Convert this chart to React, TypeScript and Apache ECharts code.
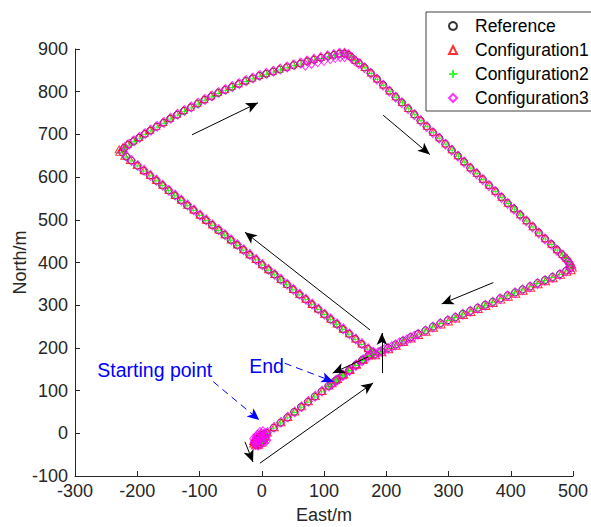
import React, { useEffect, useRef } from "react";
import * as echarts from "echarts";

const FONT = "'Liberation Sans', Arial, Helvetica, sans-serif";
const AXIS_COLOR = "#262626";

const xRange = [-300, 500];
const yRange = [-100, 900];
const tickStep = 100;
const xName = "East/m";
const yName = "North/m";
const seriesNames = ["Reference", "Configuration1", "Configuration2", "Configuration3"];

const referencePath = [
  [0, -4], [-4, -9], [-8, -14], [-11, -19], [-12, -24], [-9, -27], [-5, -26], [-1, -21], [3, -15], [6, -9], [4, -2],
  [8, 1], [19, 13], [30, 25], [41, 37], [52, 50], [63, 62], [74, 74], [85, 86], [96, 98], [107, 111], [118, 123], [129, 135], [140, 147], [151, 160], [162, 172], [173, 184], [178, 190],
  [170, 198], [160, 209], [150, 221], [140, 233], [130, 244], [120, 256], [110, 267], [100, 279], [90, 291], [80, 302], [70, 314], [60, 325], [50, 337], [40, 349], [30, 360], [20, 372], [10, 383], [0, 395], [-10, 407], [-20, 418], [-30, 430], [-40, 441], [-50, 453], [-60, 465], [-70, 476], [-80, 488], [-90, 499], [-100, 511], [-110, 523], [-120, 534], [-130, 546], [-140, 557], [-150, 569], [-160, 581], [-170, 592], [-180, 604], [-190, 615], [-200, 627], [-210, 639], [-218, 648], [-224, 658],
  [-221, 668], [-214, 676], [-206, 684], [-197, 692], [-188, 701], [-179, 709], [-169, 718], [-158, 727], [-147, 737], [-136, 746], [-125, 755], [-114, 763], [-103, 772], [-92, 781], [-81, 789], [-70, 797], [-59, 804], [-48, 811], [-37, 818], [-26, 825], [-15, 831], [-4, 837], [7, 842], [18, 847], [29, 852], [40, 857], [51, 862], [62, 866], [73, 871], [84, 875], [95, 879], [106, 883], [116, 886], [125, 889], [133, 889], [139, 886],
  [143, 882], [149, 874], [156, 867], [165, 857], [175, 844], [185, 830], [195, 816], [205, 802], [215, 788], [225, 775], [235, 761], [245, 747], [255, 733], [265, 719], [275, 705], [285, 692], [295, 678], [305, 664], [315, 650], [325, 636], [335, 622], [345, 609], [355, 595], [365, 581], [375, 567], [385, 553], [395, 539], [405, 526], [415, 512], [425, 498], [435, 484], [445, 470], [455, 456], [465, 443], [474, 430], [482, 419], [488, 410], [492, 402], [495, 394], [495, 387],
  [489, 381], [479, 373], [467, 366], [455, 359], [443, 352], [431, 344], [419, 337], [407, 330], [395, 323], [383, 316], [371, 308], [359, 301], [347, 294], [335, 287], [323, 280], [311, 272], [299, 265], [287, 258], [275, 250], [263, 241], [251, 233], [239, 225], [227, 217], [215, 208], [203, 200], [192, 193], [182, 186],
  [171, 181], [161, 171], [151, 160], [141, 148], [131, 137], [121, 126], [112, 116],
];

const config1Path = [
  [-1, -3], [-5, -8], [-10, -13], [-13, -18], [-13, -24], [-10, -28], [-5, -27], [0, -22], [4, -15], [6, -8], [3, 0],
  [9, 2], [20, 14], [31, 26], [42, 38], [53, 51], [64, 63], [75, 75], [86, 87], [97, 99], [108, 112], [119, 124], [130, 136], [141, 148], [152, 161], [163, 173], [174, 185], [179, 191],
  [171, 199], [161, 210], [151, 222], [141, 234], [131, 245], [121, 257], [111, 268], [101, 280], [91, 292], [81, 303], [71, 315], [61, 326], [51, 338], [41, 350], [31, 361], [21, 373], [11, 384], [1, 396], [-9, 408], [-19, 419], [-29, 431], [-39, 442], [-49, 454], [-59, 466], [-69, 477], [-79, 489], [-89, 500], [-99, 512], [-109, 524], [-119, 535], [-129, 547], [-139, 558], [-149, 570], [-159, 582], [-169, 593], [-179, 605], [-189, 616], [-200, 628], [-211, 640], [-220, 650], [-228, 659], [-229, 665],
  [-223, 670], [-216, 678], [-207, 686], [-198, 694], [-189, 703], [-180, 711], [-170, 720], [-159, 729], [-148, 739], [-137, 748], [-126, 757], [-115, 765], [-104, 774], [-93, 783], [-82, 791], [-71, 799], [-60, 806], [-49, 813], [-38, 820], [-27, 827], [-16, 833], [-5, 839], [6, 844], [17, 849], [28, 854], [39, 859], [50, 864], [61, 868], [72, 873], [83, 877], [94, 881], [105, 885], [115, 888], [124, 891], [133, 891], [140, 888],
  [145, 883], [151, 875], [158, 868], [166, 858], [176, 845], [186, 831], [196, 817], [206, 803], [216, 789], [226, 776], [236, 762], [246, 748], [256, 734], [266, 720], [276, 706], [286, 693], [296, 679], [306, 665], [316, 651], [326, 637], [336, 623], [346, 610], [356, 596], [366, 582], [376, 568], [386, 554], [396, 540], [406, 527], [416, 513], [426, 499], [436, 485], [446, 471], [456, 457], [466, 444], [475, 431], [484, 420], [490, 411], [495, 403], [498, 395], [499, 388], [497, 382],
  [490, 378], [480, 371], [468, 363], [456, 356], [444, 349], [432, 341], [420, 334], [408, 327], [396, 320], [384, 313], [372, 305], [360, 298], [348, 291], [336, 284], [324, 277], [312, 269], [300, 262], [288, 255], [276, 247], [264, 238], [252, 230], [240, 222], [228, 214], [216, 205], [204, 197], [193, 190], [183, 183],
  [172, 182], [162, 172], [152, 161], [142, 149], [132, 138], [122, 127], [113, 117],
];

const config2Path = [
  [0, -5], [-4, -10], [-8, -15], [-10, -20], [-9, -25], [-4, -24], [1, -18], [4, -11], [2, -3],
  [8, 0], [19, 12], [30, 24], [41, 36], [52, 49], [63, 61], [74, 73], [85, 85], [96, 97], [107, 110], [118, 122], [129, 134], [140, 146], [151, 159], [162, 171], [173, 183], [178, 189],
  [170, 197], [160, 208], [150, 220], [140, 232], [130, 243], [120, 255], [110, 266], [100, 278], [90, 290], [80, 301], [70, 313], [60, 324], [50, 336], [40, 348], [30, 359], [20, 371], [10, 382], [0, 394], [-10, 406], [-20, 417], [-30, 429], [-40, 440], [-50, 452], [-60, 464], [-70, 475], [-80, 487], [-90, 498], [-100, 510], [-110, 522], [-120, 533], [-130, 545], [-140, 556], [-150, 568], [-160, 580], [-170, 591], [-180, 603], [-190, 614], [-200, 626], [-210, 638], [-218, 647], [-223, 657],
  [-220, 667], [-213, 675], [-205, 683], [-196, 691], [-187, 700], [-178, 708], [-168, 717], [-157, 726], [-146, 736], [-135, 745], [-124, 754], [-113, 762], [-102, 771], [-91, 780], [-80, 788], [-69, 796], [-58, 803], [-47, 810], [-36, 817], [-25, 824], [-14, 830], [-3, 836], [8, 841], [19, 846], [30, 851], [41, 856], [52, 861], [63, 865], [74, 870], [85, 874], [96, 878], [107, 882], [117, 885], [126, 888], [134, 888], [140, 885],
  [144, 881], [150, 873], [157, 866], [166, 856], [176, 843], [186, 829], [196, 815], [206, 801], [216, 787], [226, 774], [236, 760], [246, 746], [256, 732], [266, 718], [276, 704], [286, 691], [296, 677], [306, 663], [316, 649], [326, 635], [336, 621], [346, 608], [356, 594], [366, 580], [376, 566], [386, 552], [396, 538], [406, 525], [416, 511], [426, 497], [436, 483], [446, 469], [456, 455], [466, 442], [475, 429], [483, 418], [489, 409], [493, 401], [495, 393], [494, 386],
  [488, 380], [478, 372], [466, 365], [454, 358], [442, 351], [430, 343], [418, 336], [406, 329], [394, 322], [382, 315], [370, 307], [358, 300], [346, 293], [334, 286], [322, 279], [310, 271], [298, 264], [286, 257], [274, 249], [262, 240], [250, 232], [238, 224], [226, 216], [214, 207], [202, 199], [191, 192], [181, 185],
  [170, 180], [160, 170], [150, 159], [140, 147], [130, 136], [120, 125], [111, 115],
];

const config3Path = [
  [0, -2], [-4, -6], [-8, -11], [-11, -16], [-12, -21], [-10, -26], [-6, -28], [-2, -25], [2, -20], [5, -14], [7, -8], [6, -1], [2, 4], [-3, 2], [-7, -4], [-9, -9], [-5, -15], [-1, -10], [-6, -20], [1, -16], [3, -6], [-13, -13], [-11, -24], [8, -16],
  [9, 2], [20, 14], [31, 26], [42, 38], [53, 50], [64, 62], [75, 75], [86, 87], [97, 99], [108, 111], [119, 123], [130, 136], [141, 148], [152, 160], [163, 172], [174, 185], [179, 190],
  [171, 198], [161, 210], [151, 221], [141, 233], [131, 245], [121, 256], [111, 268], [101, 279], [91, 291], [81, 303], [71, 314], [61, 326], [51, 337], [41, 349], [31, 361], [21, 372], [11, 384], [1, 395], [-9, 407], [-19, 419], [-29, 430], [-39, 442], [-49, 453], [-59, 465], [-69, 477], [-79, 488], [-89, 500], [-99, 511], [-109, 523], [-119, 535], [-129, 546], [-139, 558], [-149, 569], [-159, 581], [-169, 593], [-179, 604], [-189, 616], [-199, 627], [-209, 639], [-217, 649], [-223, 659],
  [-220, 669], [-213, 677], [-205, 685], [-196, 693], [-187, 702], [-178, 710], [-168, 719], [-157, 728], [-146, 738], [-135, 747], [-124, 756], [-113, 764], [-102, 773], [-91, 782], [-80, 790], [-69, 798], [-58, 805], [-47, 812], [-36, 819], [-25, 826], [-14, 832], [-3, 838], [8, 843], [19, 848], [30, 853], [41, 858], [52, 863], [63, 867], [70, 862], [73, 872], [80, 866], [84, 876], [90, 870], [95, 880], [100, 873], [106, 884], [110, 877], [116, 887], [118, 880], [125, 890], [126, 882], [133, 882], [133, 890], [139, 887],
  [143, 881], [149, 873], [156, 866], [165, 856], [175, 843], [185, 829], [195, 815], [205, 801], [215, 787], [225, 774], [235, 760], [245, 746], [255, 732], [265, 718], [275, 704], [285, 691], [295, 677], [305, 663], [315, 649], [325, 635], [335, 621], [345, 608], [355, 594], [365, 580], [375, 566], [385, 552], [395, 538], [405, 525], [415, 511], [425, 497], [435, 483], [445, 469], [455, 455], [465, 442], [474, 429], [482, 418], [488, 409], [493, 401], [496, 393], [496, 386],
  [489, 380], [479, 372], [467, 365], [455, 358], [443, 351], [431, 343], [419, 336], [407, 329], [395, 322], [383, 315], [371, 307], [359, 300], [347, 293], [335, 286], [323, 279], [311, 271], [299, 264], [287, 257], [275, 249], [263, 240], [251, 232], [245, 227], [239, 224], [233, 219], [227, 216], [221, 212], [215, 207], [209, 203], [203, 199], [197, 196], [192, 192], [187, 189], [182, 185],
  [171, 180], [161, 170], [151, 159], [141, 147], [131, 136], [121, 125], [112, 115],
];

// direction arrows: [x1, y1, x2, y2] in data units (East, North)
const blackArrows = [
  [-3, -70, 179, 118],
  [193, 141, 193, 235],
  [171, 179, 114, 141],
  [174, 242, -27, 471],
  [-112, 699, -6, 774],
  [195, 745, 270, 653],
  [372, 353, 289, 303],
  [-27, -20, -14, -67],
];

const blueArrows = [
  [-78, 121, -4, 31],
  [37, 164, 115, 121],
];

const textNotes = [
  { name: "Starting point", coord: [-265, 148] },
  { name: "End", coord: [-21, 157] },
];

function arrowPairs(list: number[][]) {
  return list.map((a) => [{ coord: [a[0], a[1]] }, { coord: [a[2], a[3]] }]);
}

export default function App() {
  const ref = useRef<HTMLDivElement>(null);

  useEffect(() => {
    document.body.style.margin = "0";
    if (!ref.current) return;
    const chart = echarts.init(ref.current, undefined, { renderer: "svg" });

    const axisCommon = {
      type: "value" as const,
      interval: tickStep,
      nameLocation: "middle" as const,
      nameMoveOverlap: false,
      nameTextStyle: { fontSize: 18, color: AXIS_COLOR, fontFamily: FONT },
      axisLine: { show: true, onZero: false, lineStyle: { color: AXIS_COLOR, width: 1 } },
      axisTick: { show: true, inside: true, length: 5, lineStyle: { color: AXIS_COLOR } },
      splitLine: { show: false },
    };

    chart.setOption({
      animation: false,
      backgroundColor: "#fff",
      grid: { left: 75, right: 18, top: 49, bottom: 51, containLabel: false, outerBoundsMode: "none" },
      xAxis: {
        ...axisCommon,
        min: xRange[0],
        max: xRange[1],
        name: xName,
        nameGap: 30,
        axisLabel: { fontSize: 18, color: AXIS_COLOR, fontFamily: FONT, margin: 6 },
      },
      yAxis: {
        ...axisCommon,
        min: yRange[0],
        max: yRange[1],
        name: yName,
        nameGap: 46,
        axisLabel: { fontSize: 18, color: AXIS_COLOR, fontFamily: FONT, margin: 7 },
      },
      legend: {
        data: seriesNames,
        orient: "vertical",
        left: 426,
        top: 12,
        padding: [4, 10, 3, 22],
        itemWidth: 8,
        itemHeight: 8,
        itemGap: 4,
        borderColor: "#404040",
        borderWidth: 1,
        backgroundColor: "#fff",
        textStyle: { fontSize: 17.5, color: "#000", fontFamily: FONT, lineHeight: 20, padding: [0, 0, 0, 13] },
        z: 10,
      },
      series: [
        {
          type: "scatter",
          name: seriesNames[0],
          data: referencePath,
          symbol: "circle",
          symbolSize: 7,
          itemStyle: { color: "transparent", borderColor: "#000", borderWidth: 1 },
        },
        {
          type: "scatter",
          name: seriesNames[1],
          data: config1Path,
          symbol: "triangle",
          symbolSize: [8, 7],
          itemStyle: { color: "transparent", borderColor: "#ff0000", borderWidth: 1 },
        },
        {
          type: "scatter",
          name: seriesNames[2],
          data: config2Path,
          symbol: "path://M5,0L5,10M0,5L10,5",
          symbolSize: 7,
          itemStyle: { color: "transparent", borderColor: "#00ff00", borderWidth: 1 },
        },
        {
          type: "scatter",
          name: seriesNames[3],
          data: config3Path,
          symbol: "diamond",
          symbolSize: [8, 10],
          itemStyle: { color: "transparent", borderColor: "#ff00ff", borderWidth: 1 },
        },
        {
          type: "scatter",
          name: "arrows",
          data: [],
          silent: true,
          markLine: {
            silent: true,
            symbol: ["none", "arrow"],
            symbolSize: [8, 12],
            label: { show: false },
            lineStyle: { color: "#000", width: 1, type: "solid" },
            emphasis: { disabled: true },
            data: arrowPairs(blackArrows),
          },
        },
        {
          type: "scatter",
          name: "notes",
          data: [],
          silent: true,
          markLine: {
            silent: true,
            symbol: ["none", "arrow"],
            symbolSize: [8, 12],
            label: { show: false },
            lineStyle: { color: "#0000ff", width: 1, type: [7, 5] },
            emphasis: { disabled: true },
            data: arrowPairs(blueArrows),
          },
          markPoint: {
            silent: true,
            symbol: "rect",
            symbolSize: 1,
            itemStyle: { color: "transparent" },
            label: {
              show: true,
              position: "right",
              distance: 0,
              formatter: "{b}",
              color: "#0000ff",
              fontSize: 19.5,
              fontFamily: FONT,
            },
            data: textNotes,
          },
        },
      ],
    });

    return () => chart.dispose();
  }, []);

  return <div ref={ref} style={{ width: 591, height: 527 }} />;
}
